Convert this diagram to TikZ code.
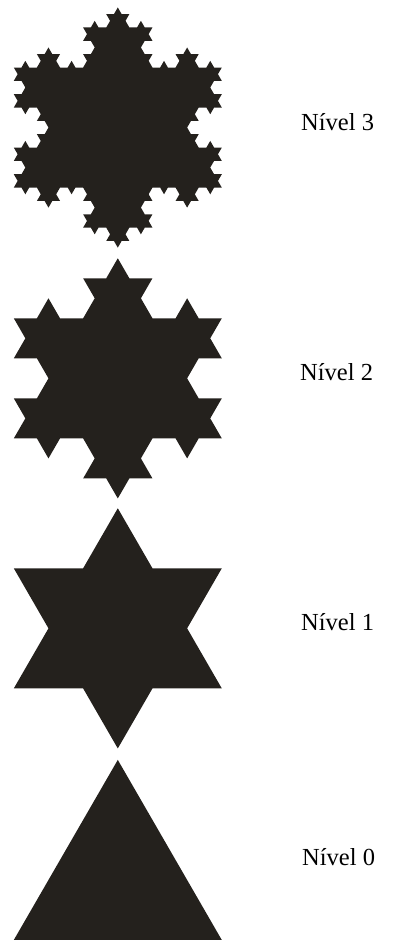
\documentclass[tikz,border=0pt]{standalone}
\usepackage{fontspec}
\setmainfont{Liberation Serif}
\usetikzlibrary{lindenmayersystems}
\pgfdeclarelindenmayersystem{Koch}{\rule{F -> F-F++F-F}}
\definecolor{flake}{HTML}{24211D}
\tikzset{
  flakefill/.style={fill=flake},
  lvl/.style={anchor=base west, inner sep=0pt, font=\fontsize{24.5}{24.5}\selectfont, text=black}
}
\begin{document}
\begin{tikzpicture}[x=1pt,y=1pt]
\useasboundingbox (0,0) rectangle (395,943);
% level 3
\begin{scope}[shift={(13.8,755.4)}]
\fill[flakefill, lindenmayer system={Koch, step=7.7037pt, angle=60, axiom=F++F++F, order=3}]
  lindenmayer system -- cycle;
\end{scope}
% level 2
\begin{scope}[shift={(13.8,504.6)}]
\fill[flakefill, lindenmayer system={Koch, step=23.111pt, angle=60, axiom=F++F++F, order=2}]
  lindenmayer system -- cycle;
\end{scope}
% level 1
\begin{scope}[shift={(13.8,254.6)}]
\fill[flakefill, lindenmayer system={Koch, step=69.333pt, angle=60, axiom=F++F++F, order=1}]
  lindenmayer system -- cycle;
\end{scope}
% level 0
\fill[flakefill] (13.8,3) -- (221.8,3) -- (117.8,183.1) -- cycle;
\node[lvl] (n3) at (301,812) {Nível 3};
\node[lvl] (n2) at (300,562) {Nível 2};
\node[lvl] (n1) at (301,312) {Nível 1};
\node[lvl] (n0) at (302,77) {Nível 0};
\end{tikzpicture}
\end{document}
